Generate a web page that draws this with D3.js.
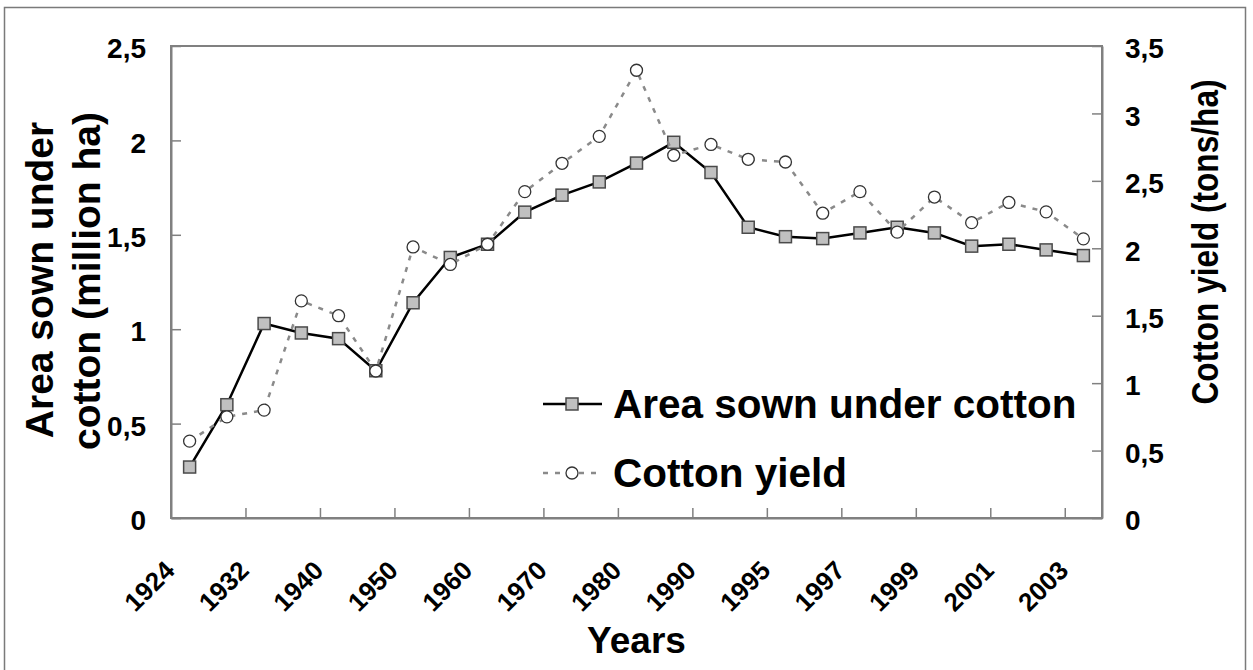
<!DOCTYPE html>
<html>
<head>
<meta charset="utf-8">
<script src="https://cdn.jsdelivr.net/npm/d3@7"></script>
<style>
  body { margin: 0; background: #fff; }
  svg text { font-family: "Liberation Sans", Arial, sans-serif; font-weight: bold; fill: #000; }
</style>
</head>
<body>
<div id="chart"></div>
<script>
// categories: only every other point carries a year label on the axis
const categories = ["1924", "", "1932", "", "1940", "", "1950", "", "1960", "", "1970", "", "1980", "",
  "1990", "", "1995", "", "1997", "", "1999", "", "2001", "", "2003"];
const areaValues = [0.27, 0.60, 1.03, 0.98, 0.95, 0.78, 1.14, 1.38, 1.45, 1.62, 1.71, 1.78, 1.88, 1.99,
  1.83, 1.54, 1.49, 1.48, 1.51, 1.54, 1.51, 1.44, 1.45, 1.42, 1.39];
const yieldValues = [0.57, 0.75, 0.80, 1.61, 1.50, 1.09, 2.01, 1.88, 2.03, 2.42, 2.63, 2.83, 3.32, 2.69,
  2.77, 2.66, 2.64, 2.26, 2.42, 2.12, 2.38, 2.19, 2.34, 2.27, 2.07];
const leftTicks = [0, 0.5, 1, 1.5, 2, 2.5];
const rightTicks = [0, 0.5, 1, 1.5, 2, 2.5, 3, 3.5];
const seriesNames = ["Area sown under cotton", "Cotton yield"];

const W = 1253, H = 670;
const margin = {left: 171, top: 46, right: W - 1102, bottom: H - 518};
const width = W - margin.left - margin.right;
const height = H - margin.top - margin.bottom;
const comma = d => String(d).replace(".", ",");

const svg = d3.select("#chart").append("svg")
  .attr("width", W).attr("height", H);

// outer chart border (bottom edge falls outside the picture)
svg.append("rect")
  .attr("x", 4.5).attr("y", 7.5).attr("width", 1241).attr("height", 680)
  .attr("fill", "none").attr("stroke", "#7a7a7a").attr("stroke-width", 1.5);

const g = svg.append("g").attr("transform", "translate(" + margin.left + "," + margin.top + ")");

const n = categories.length;
const x = d3.scaleLinear().domain([0, n]).range([0, width]);
const cx = i => x(i + 0.5);
const yL = d3.scaleLinear().domain([0, 2.5]).range([height, 0]);
const yR = d3.scaleLinear().domain([0, 3.5]).range([height, 0]);

// plot frame
g.append("rect")
  .attr("width", width).attr("height", height)
  .attr("fill", "none").attr("stroke", "#808080").attr("stroke-width", 2);

// axes
const axL = g.append("g")
  .call(d3.axisLeft(yL).tickValues(leftTicks).tickFormat(comma).tickSizeInner(-10).tickSizeOuter(0).tickPadding(25));
const axR = g.append("g").attr("transform", "translate(" + width + ",0)")
  .call(d3.axisRight(yR).tickValues(rightTicks).tickFormat(comma).tickSizeInner(-10).tickSizeOuter(0).tickPadding(23));
const axB = g.append("g").attr("transform", "translate(0," + height + ")")
  .call(d3.axisBottom(x).tickValues(d3.range(2, n, 2)).tickFormat("").tickSizeInner(-10).tickSizeOuter(0));
const axLab = g.append("g").attr("transform", "translate(0," + height + ")")
  .call(d3.axisBottom(x).tickValues(d3.range(0, n, 2).map(i => i + 0.5))
    .tickFormat(v => categories[Math.round(v - 0.5)]).tickSize(0));
axLab.select(".domain").remove();

[axL, axR, axB].forEach(a => {
  a.select(".domain").attr("stroke", "#808080").attr("stroke-width", 2);
  a.selectAll(".tick line").attr("stroke", "#808080").attr("stroke-width", 1.5);
});
svg.selectAll(".tick text").style("font-family", null);
[axL, axR].forEach(a => a.selectAll("text").style("font-size", "28px").attr("dy", "0.42em"));
axLab.selectAll("text")
  .style("font-size", "26px")
  .attr("y", 0).attr("dy", 0)
  .attr("transform", "translate(-14,54) rotate(-45)")
  .style("text-anchor", "end");

// lines
const lineArea = d3.line().x((d, i) => cx(i)).y(d => yL(d));
const lineYield = d3.line().x((d, i) => cx(i)).y(d => yR(d));

g.append("path").datum(areaValues).attr("d", lineArea)
  .attr("fill", "none").attr("stroke", "#000").attr("stroke-width", 2.5);

g.selectAll(".sq").data(areaValues).enter().append("rect")
  .attr("class", "sq")
  .attr("x", (d, i) => cx(i) - 6).attr("y", d => yL(d) - 6)
  .attr("width", 12).attr("height", 12)
  .attr("fill", "#c0c0c0").attr("stroke", "#4a4a4a").attr("stroke-width", 1.5);

g.append("path").datum(yieldValues).attr("d", lineYield)
  .attr("fill", "none").attr("stroke", "#8a8a8a").attr("stroke-width", 2.5)
  .attr("stroke-dasharray", "5,7");

g.selectAll(".ci").data(yieldValues).enter().append("circle")
  .attr("class", "ci")
  .attr("cx", (d, i) => cx(i)).attr("cy", d => yR(d)).attr("r", 6)
  .attr("fill", "#fff").attr("stroke", "#333").attr("stroke-width", 1.3);

// axis titles
svg.append("text")
  .attr("transform", "translate(53,280) rotate(-90)")
  .attr("text-anchor", "middle").style("font-size", "39px")
  .text("Area sown under");
svg.append("text")
  .attr("transform", "translate(100,281) rotate(-90)")
  .attr("text-anchor", "middle").style("font-size", "39px")
  .text("cotton (million ha)");
svg.append("text")
  .attr("transform", "translate(1218,242) rotate(-90)")
  .attr("text-anchor", "middle").style("font-size", "36px")
  .attr("textLength", 325).attr("lengthAdjust", "spacingAndGlyphs")
  .text("Cotton yield (tons/ha)");
svg.append("text")
  .attr("x", margin.left + width / 2).attr("y", 653)
  .attr("text-anchor", "middle").style("font-size", "37px")
  .text("Years");

// legend
const leg = svg.append("g").attr("transform", "translate(543,0)");
const legRows = [{y: 404, name: seriesNames[0]}, {y: 473, name: seriesNames[1]}];

leg.append("line").attr("x1", 0).attr("x2", 59).attr("y1", legRows[0].y).attr("y2", legRows[0].y)
  .attr("stroke", "#000").attr("stroke-width", 2.5);
leg.append("rect").attr("x", 29 - 6).attr("y", legRows[0].y - 6).attr("width", 12).attr("height", 12)
  .attr("fill", "#c0c0c0").attr("stroke", "#4a4a4a").attr("stroke-width", 1.5);
leg.append("line").attr("x1", 0).attr("x2", 59).attr("y1", legRows[1].y).attr("y2", legRows[1].y)
  .attr("stroke", "#8a8a8a").attr("stroke-width", 2.5).attr("stroke-dasharray", "5,7");
leg.append("circle").attr("cx", 29).attr("cy", legRows[1].y).attr("r", 6)
  .attr("fill", "#fff").attr("stroke", "#333").attr("stroke-width", 1.3);

leg.selectAll(".lt").data(legRows).enter().append("text")
  .attr("class", "lt")
  .attr("x", 70).attr("y", d => d.y + 14)
  .style("font-size", "40.5px")
  .text(d => d.name);
</script>
</body>
</html>
